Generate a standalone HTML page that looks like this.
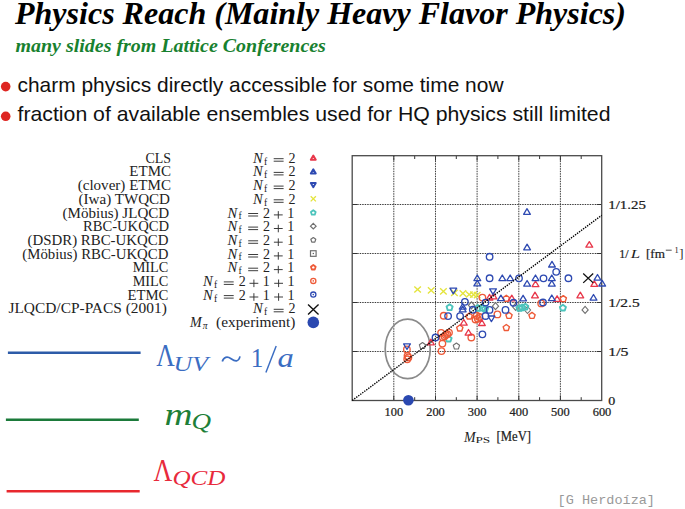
<!DOCTYPE html>
<html><head><meta charset="utf-8"><style>
html,body{margin:0;padding:0;background:#fff;}
svg{display:block;}
</style></head><body>
<svg width="685" height="509" viewBox="0 0 685 509">
<rect width="685" height="509" fill="#fff"/>
<text x="15" y="24" font-family="Liberation Serif" font-weight="bold" font-style="italic" font-size="31.6" textLength="611" lengthAdjust="spacingAndGlyphs" fill="#000">Physics Reach (Mainly Heavy Flavor Physics)</text>
<text x="15.5" y="51.6" font-family="Liberation Serif" font-weight="bold" font-style="italic" font-size="19" textLength="310.4" lengthAdjust="spacingAndGlyphs" fill="#18812f">many slides from Lattice Conferences</text>
<circle cx="5.7" cy="86.6" r="4.8" fill="#de2622"/>
<circle cx="5.7" cy="116.3" r="4.8" fill="#de2622"/>
<text x="17.5" y="91.9" font-family="Liberation Sans" font-size="21" textLength="486" lengthAdjust="spacingAndGlyphs" fill="#111">charm physics directly accessible for some time now</text>
<text x="17.5" y="121.2" font-family="Liberation Sans" font-size="21" textLength="593" lengthAdjust="spacingAndGlyphs" fill="#111">fraction of available ensembles used for HQ physics still limited</text>
<text x="145.5" y="162.7" font-family="Liberation Serif" font-size="14.0" textLength="25.5" lengthAdjust="spacingAndGlyphs" fill="#222">CLS</text>
<text x="252.9" y="162.7" font-family="Liberation Serif" font-style="italic" font-size="14.6" fill="#222">N</text><text x="265.6" y="164.6" text-anchor="middle" font-family="Liberation Serif" font-size="9.6" fill="#222">f</text><path d="M273.7 158.7h9.9M273.7 161.2h9.9" stroke="#333" stroke-width="0.95"/><text x="292.1" y="162.7" text-anchor="middle" font-family="Liberation Serif" font-size="14.0" fill="#222">2</text>
<text x="129.3" y="176.4" font-family="Liberation Serif" font-size="14.0" textLength="41.7" lengthAdjust="spacingAndGlyphs" fill="#222">ETMC</text>
<text x="252.9" y="176.4" font-family="Liberation Serif" font-style="italic" font-size="14.6" fill="#222">N</text><text x="265.6" y="178.3" text-anchor="middle" font-family="Liberation Serif" font-size="9.6" fill="#222">f</text><path d="M273.7 172.4h9.9M273.7 174.9h9.9" stroke="#333" stroke-width="0.95"/><text x="292.1" y="176.4" text-anchor="middle" font-family="Liberation Serif" font-size="14.0" fill="#222">2</text>
<text x="77.7" y="190.1" font-family="Liberation Serif" font-size="14.0" textLength="93.3" lengthAdjust="spacingAndGlyphs" fill="#222">(clover) ETMC</text>
<text x="252.9" y="190.1" font-family="Liberation Serif" font-style="italic" font-size="14.6" fill="#222">N</text><text x="265.6" y="192.0" text-anchor="middle" font-family="Liberation Serif" font-size="9.6" fill="#222">f</text><path d="M273.7 186.1h9.9M273.7 188.6h9.9" stroke="#333" stroke-width="0.95"/><text x="292.1" y="190.1" text-anchor="middle" font-family="Liberation Serif" font-size="14.0" fill="#222">2</text>
<text x="78.5" y="203.8" font-family="Liberation Serif" font-size="14.0" textLength="91.5" lengthAdjust="spacingAndGlyphs" fill="#222">(Iwa) TWQCD</text>
<text x="252.9" y="203.8" font-family="Liberation Serif" font-style="italic" font-size="14.6" fill="#222">N</text><text x="265.6" y="205.7" text-anchor="middle" font-family="Liberation Serif" font-size="9.6" fill="#222">f</text><path d="M273.7 199.8h9.9M273.7 202.3h9.9" stroke="#333" stroke-width="0.95"/><text x="292.1" y="203.8" text-anchor="middle" font-family="Liberation Serif" font-size="14.0" fill="#222">2</text>
<text x="62.6" y="217.5" font-family="Liberation Serif" font-size="14.0" textLength="106.6" lengthAdjust="spacingAndGlyphs" fill="#222">(Möbius) JLQCD</text>
<text x="227.4" y="217.5" font-family="Liberation Serif" font-style="italic" font-size="14.6" fill="#222">N</text><text x="240.1" y="219.4" text-anchor="middle" font-family="Liberation Serif" font-size="9.6" fill="#222">f</text><path d="M248.2 213.5h9.9M248.2 216.0h9.9" stroke="#333" stroke-width="0.95"/><text x="266.6" y="217.5" text-anchor="middle" font-family="Liberation Serif" font-size="14.0" fill="#222">2</text><path d="M273.9 214.9h8.8M278.3 211.1v7.6" stroke="#333" stroke-width="0.95"/><text x="290.7" y="217.5" text-anchor="middle" font-family="Liberation Serif" font-size="14.0" fill="#222">1</text>
<text x="83.0" y="231.1" font-family="Liberation Serif" font-size="14.0" textLength="86.0" lengthAdjust="spacingAndGlyphs" fill="#222">RBC-UKQCD</text>
<text x="227.4" y="231.1" font-family="Liberation Serif" font-style="italic" font-size="14.6" fill="#222">N</text><text x="240.1" y="233.0" text-anchor="middle" font-family="Liberation Serif" font-size="9.6" fill="#222">f</text><path d="M248.2 227.1h9.9M248.2 229.6h9.9" stroke="#333" stroke-width="0.95"/><text x="266.6" y="231.1" text-anchor="middle" font-family="Liberation Serif" font-size="14.0" fill="#222">2</text><path d="M273.9 228.5h8.8M278.3 224.7v7.6" stroke="#333" stroke-width="0.95"/><text x="290.7" y="231.1" text-anchor="middle" font-family="Liberation Serif" font-size="14.0" fill="#222">1</text>
<text x="27.6" y="244.8" font-family="Liberation Serif" font-size="14.0" textLength="140.8" lengthAdjust="spacingAndGlyphs" fill="#222">(DSDR) RBC-UKQCD</text>
<text x="227.4" y="244.8" font-family="Liberation Serif" font-style="italic" font-size="14.6" fill="#222">N</text><text x="240.1" y="246.7" text-anchor="middle" font-family="Liberation Serif" font-size="9.6" fill="#222">f</text><path d="M248.2 240.8h9.9M248.2 243.3h9.9" stroke="#333" stroke-width="0.95"/><text x="266.6" y="244.8" text-anchor="middle" font-family="Liberation Serif" font-size="14.0" fill="#222">2</text><path d="M273.9 242.2h8.8M278.3 238.4v7.6" stroke="#333" stroke-width="0.95"/><text x="290.7" y="244.8" text-anchor="middle" font-family="Liberation Serif" font-size="14.0" fill="#222">1</text>
<text x="22.3" y="258.5" font-family="Liberation Serif" font-size="14.0" textLength="146.1" lengthAdjust="spacingAndGlyphs" fill="#222">(Möbius) RBC-UKQCD</text>
<text x="227.4" y="258.5" font-family="Liberation Serif" font-style="italic" font-size="14.6" fill="#222">N</text><text x="240.1" y="260.4" text-anchor="middle" font-family="Liberation Serif" font-size="9.6" fill="#222">f</text><path d="M248.2 254.5h9.9M248.2 257.0h9.9" stroke="#333" stroke-width="0.95"/><text x="266.6" y="258.5" text-anchor="middle" font-family="Liberation Serif" font-size="14.0" fill="#222">2</text><path d="M273.9 255.9h8.8M278.3 252.1v7.6" stroke="#333" stroke-width="0.95"/><text x="290.7" y="258.5" text-anchor="middle" font-family="Liberation Serif" font-size="14.0" fill="#222">1</text>
<text x="132.7" y="272.2" font-family="Liberation Serif" font-size="14.0" textLength="35.6" lengthAdjust="spacingAndGlyphs" fill="#222">MILC</text>
<text x="227.4" y="272.2" font-family="Liberation Serif" font-style="italic" font-size="14.6" fill="#222">N</text><text x="240.1" y="274.1" text-anchor="middle" font-family="Liberation Serif" font-size="9.6" fill="#222">f</text><path d="M248.2 268.2h9.9M248.2 270.7h9.9" stroke="#333" stroke-width="0.95"/><text x="266.6" y="272.2" text-anchor="middle" font-family="Liberation Serif" font-size="14.0" fill="#222">2</text><path d="M273.9 269.6h8.8M278.3 265.8v7.6" stroke="#333" stroke-width="0.95"/><text x="290.7" y="272.2" text-anchor="middle" font-family="Liberation Serif" font-size="14.0" fill="#222">1</text>
<text x="132.7" y="285.9" font-family="Liberation Serif" font-size="14.0" textLength="35.6" lengthAdjust="spacingAndGlyphs" fill="#222">MILC</text>
<text x="203.0" y="285.9" font-family="Liberation Serif" font-style="italic" font-size="14.6" fill="#222">N</text><text x="215.7" y="287.8" text-anchor="middle" font-family="Liberation Serif" font-size="9.6" fill="#222">f</text><path d="M223.8 281.9h9.9M223.8 284.4h9.9" stroke="#333" stroke-width="0.95"/><text x="242.2" y="285.9" text-anchor="middle" font-family="Liberation Serif" font-size="14.0" fill="#222">2</text><path d="M249.5 283.3h8.8M253.9 279.5v7.6" stroke="#333" stroke-width="0.95"/><text x="266.3" y="285.9" text-anchor="middle" font-family="Liberation Serif" font-size="14.0" fill="#222">1</text><path d="M274.2 283.3h8.8M278.6 279.5v7.6" stroke="#333" stroke-width="0.95"/><text x="291.0" y="285.9" text-anchor="middle" font-family="Liberation Serif" font-size="14.0" fill="#222">1</text>
<text x="127.4" y="299.6" font-family="Liberation Serif" font-size="14.0" textLength="40.9" lengthAdjust="spacingAndGlyphs" fill="#222">ETMC</text>
<text x="203.0" y="299.6" font-family="Liberation Serif" font-style="italic" font-size="14.6" fill="#222">N</text><text x="215.7" y="301.5" text-anchor="middle" font-family="Liberation Serif" font-size="9.6" fill="#222">f</text><path d="M223.8 295.6h9.9M223.8 298.1h9.9" stroke="#333" stroke-width="0.95"/><text x="242.2" y="299.6" text-anchor="middle" font-family="Liberation Serif" font-size="14.0" fill="#222">2</text><path d="M249.5 297.0h8.8M253.9 293.2v7.6" stroke="#333" stroke-width="0.95"/><text x="266.3" y="299.6" text-anchor="middle" font-family="Liberation Serif" font-size="14.0" fill="#222">1</text><path d="M274.2 297.0h8.8M278.6 293.2v7.6" stroke="#333" stroke-width="0.95"/><text x="291.0" y="299.6" text-anchor="middle" font-family="Liberation Serif" font-size="14.0" fill="#222">1</text>
<text x="8.4" y="313.3" font-family="Liberation Serif" font-size="14.0" textLength="158.4" lengthAdjust="spacingAndGlyphs" fill="#222">JLQCD/CP-PACS (2001)</text>
<text x="252.9" y="313.3" font-family="Liberation Serif" font-style="italic" font-size="14.6" fill="#222">N</text><text x="265.6" y="315.2" text-anchor="middle" font-family="Liberation Serif" font-size="9.6" fill="#222">f</text><path d="M273.7 309.3h9.9M273.7 311.8h9.9" stroke="#333" stroke-width="0.95"/><text x="292.1" y="313.3" text-anchor="middle" font-family="Liberation Serif" font-size="14.0" fill="#222">2</text>
<text x="189.9" y="327.0" font-family="Liberation Serif" font-style="italic" font-size="14.0" fill="#222">M</text>
<text x="202.8" y="329.2" font-family="Liberation Serif" font-style="italic" font-size="9.5" fill="#222">π</text>
<text x="216.1" y="327.0" font-family="Liberation Serif" font-size="14.0" textLength="79.2" lengthAdjust="spacingAndGlyphs" fill="#222">(experiment)</text>
<path d="M313.30 155.60L315.80 159.80L310.80 159.80Z" fill="none" stroke="#e8374a" stroke-width="1.9" stroke-linejoin="round"/>
<path d="M313.30 169.29L315.80 173.49L310.80 173.49Z" fill="none" stroke="#2e4ab2" stroke-width="1.9" stroke-linejoin="round"/>
<path d="M313.30 187.18L315.80 182.98L310.80 182.98Z" fill="none" stroke="#2e4ab2" stroke-width="1.9" stroke-linejoin="round"/>
<path d="M310.70 196.17L315.90 201.37M315.90 196.17L310.70 201.37" stroke="#e4e43c" stroke-width="1.3"/>
<path d="M313.30 210.20L315.68 211.93L314.77 214.72L311.83 214.72L310.92 211.93Z" fill="none" stroke="#4cc4bc" stroke-width="1.8" stroke-linejoin="round"/>
<path d="M313.30 223.35L316.10 226.15L313.30 228.95L310.50 226.15Z" fill="none" stroke="#707070" stroke-width="1.2"/>
<path d="M313.30 237.49L315.77 239.28L314.83 242.19L311.77 242.19L310.83 239.28Z" fill="none" stroke="#707070" stroke-width="1.2" stroke-linejoin="round"/>
<rect x="310.50" y="250.73" width="5.60" height="5.60" fill="none" stroke="#707070" stroke-width="1.2"/><rect x="312.7" y="252.9" width="1.2" height="1.2" fill="#555"/>
<path d="M313.30 264.96L315.68 266.69L314.77 269.48L311.83 269.48L310.92 266.69Z" fill="none" stroke="#ee5a38" stroke-width="1.8" stroke-linejoin="round"/>
<circle cx="313.30" cy="280.91" r="2.6" fill="none" stroke="#ee5a38" stroke-width="1.3"/><circle cx="313.3" cy="280.9" r="0.8" fill="#ee5a38"/>
<circle cx="313.30" cy="294.60" r="2.6" fill="none" stroke="#2e4ab2" stroke-width="1.3"/><circle cx="313.3" cy="294.6" r="0.8" fill="#2e4ab2"/>
<path d="M308.05 304.40L318.55 314.40M318.55 304.40L308.05 314.40" stroke="#111111" stroke-width="1.4"/>
<circle cx="313.3" cy="322.4" r="5.8" fill="#2a48b0"/>
<line x1="7.9" y1="352.7" x2="140.6" y2="352.7" stroke="#2d5ba8" stroke-width="2.6"/>
<line x1="5.9" y1="419.7" x2="138.8" y2="419.7" stroke="#1b7a3a" stroke-width="2.6"/>
<line x1="6.6" y1="491.3" x2="139.7" y2="491.3" stroke="#e8282e" stroke-width="2.4"/>
<text x="156.3" y="366.4" font-family="Liberation Serif" font-size="31.6" textLength="18.6" lengthAdjust="spacingAndGlyphs" fill="#3b6dc2">Λ</text>
<text x="173.4" y="371.0" font-family="Liberation Serif" font-size="21" font-style="italic" textLength="34.6" lengthAdjust="spacingAndGlyphs" fill="#3b6dc2">UV</text>
<path d="M222.3 361.6C223.6 356.9 227.2 355.9 231.1 358.7S238.6 362.3 240.0 356.4" fill="none" stroke="#3b6dc2" stroke-width="1.7"/>
<text x="250.8" y="366.6" font-family="Liberation Serif" font-size="28" textLength="12.6" lengthAdjust="spacingAndGlyphs" fill="#3b6dc2">1</text>
<path d="M276.2 346.0L265.9 372.6" stroke="#3b6dc2" stroke-width="1.45"/>
<text x="277.6" y="366.8" font-family="Liberation Serif" font-size="28" font-style="italic" textLength="16.3" lengthAdjust="spacingAndGlyphs" fill="#3b6dc2">a</text>
<text x="164.6" y="425" font-family="Liberation Serif" font-size="32" font-style="italic" textLength="28" lengthAdjust="spacingAndGlyphs" fill="#1e7f38">m</text>
<text x="191.6" y="429.2" font-family="Liberation Serif" font-size="23" font-style="italic" textLength="19.6" lengthAdjust="spacingAndGlyphs" fill="#1e7f38">Q</text>
<text x="153.6" y="480.9" font-family="Liberation Serif" font-size="31.8" textLength="18.8" lengthAdjust="spacingAndGlyphs" fill="#e82a3c">Λ</text>
<text x="172.4" y="485" font-family="Liberation Serif" font-size="21" font-style="italic" textLength="53" lengthAdjust="spacingAndGlyphs" fill="#e82a3c">QCD</text>
<text x="557.6" y="504" font-family="Liberation Mono" font-size="13.5" textLength="97.4" lengthAdjust="spacingAndGlyphs" fill="#999">[G Herdoíza]</text>
<line x1="393.8" y1="155.7" x2="393.8" y2="400.5" stroke="#333" stroke-width="0.95" stroke-dasharray="1.5 1.0"/>
<line x1="435.5" y1="155.7" x2="435.5" y2="400.5" stroke="#333" stroke-width="0.95" stroke-dasharray="1.5 1.0"/>
<line x1="477.1" y1="155.7" x2="477.1" y2="400.5" stroke="#333" stroke-width="0.95" stroke-dasharray="1.5 1.0"/>
<line x1="518.8" y1="155.7" x2="518.8" y2="400.5" stroke="#333" stroke-width="0.95" stroke-dasharray="1.5 1.0"/>
<line x1="560.4" y1="155.7" x2="560.4" y2="400.5" stroke="#333" stroke-width="0.95" stroke-dasharray="1.5 1.0"/>
<line x1="352.2" y1="351.5" x2="601.7" y2="351.5" stroke="#333" stroke-width="0.95" stroke-dasharray="1.5 1.0"/>
<line x1="352.2" y1="302.5" x2="601.7" y2="302.5" stroke="#333" stroke-width="0.95" stroke-dasharray="1.5 1.0"/>
<line x1="352.2" y1="253.5" x2="601.7" y2="253.5" stroke="#333" stroke-width="0.95" stroke-dasharray="1.5 1.0"/>
<line x1="352.2" y1="204.5" x2="601.7" y2="204.5" stroke="#333" stroke-width="0.95" stroke-dasharray="1.5 1.0"/>
<path d="M393.8 155.7v5M393.8 400.5v-5M435.5 155.7v5M435.5 400.5v-5M477.1 155.7v5M477.1 400.5v-5M518.8 155.7v5M518.8 400.5v-5M560.4 155.7v5M560.4 400.5v-5M414.7 155.7v3.3M414.7 400.5v-3.3M456.3 155.7v3.3M456.3 400.5v-3.3M497.9 155.7v3.3M497.9 400.5v-3.3M539.6 155.7v3.3M539.6 400.5v-3.3M581.2 155.7v3.3M581.2 400.5v-3.3M352.2 351.5h5M601.7 351.5h-5M352.2 302.5h5M601.7 302.5h-5M352.2 253.5h5M601.7 253.5h-5M352.2 204.5h5M601.7 204.5h-5" stroke="#333" stroke-width="1"/>
<rect x="352.2" y="155.7" width="249.5" height="244.8" fill="none" stroke="#4a4a4a" stroke-width="1.3"/>
<ellipse cx="407.7" cy="348.9" rx="22.5" ry="29.7" fill="none" stroke="#8a8a8a" stroke-width="1.7"/>
<path d="M471.50 301.80L474.60 305.30L471.50 308.80L468.40 305.30Z" fill="none" stroke="#707070" stroke-width="1.1"/>
<path d="M495.50 302.70L498.60 306.20L495.50 309.70L492.40 306.20Z" fill="none" stroke="#707070" stroke-width="1.1"/>
<path d="M515.60 303.30L518.70 306.80L515.60 310.30L512.50 306.80Z" fill="none" stroke="#707070" stroke-width="1.1"/>
<path d="M527.50 306.50L530.60 310.00L527.50 313.50L524.40 310.00Z" fill="none" stroke="#707070" stroke-width="1.1"/>
<path d="M585.10 306.40L588.20 309.90L585.10 313.40L582.00 309.90Z" fill="none" stroke="#707070" stroke-width="1.1"/>
<path d="M422.50 342.52L425.64 344.80L424.44 348.48L420.56 348.48L419.36 344.80Z" fill="none" stroke="#707070" stroke-width="1.1" stroke-linejoin="round"/>
<path d="M456.40 343.02L459.54 345.30L458.34 348.98L454.46 348.98L453.26 345.30Z" fill="none" stroke="#707070" stroke-width="1.1" stroke-linejoin="round"/>
<path d="M449.60 304.31L452.64 306.52L451.48 310.09L447.72 310.09L446.56 306.52Z" fill="none" stroke="#4cc4bc" stroke-width="1.9" stroke-linejoin="round"/>
<path d="M477.80 304.91L480.84 307.12L479.68 310.69L475.92 310.69L474.76 307.12Z" fill="none" stroke="#4cc4bc" stroke-width="1.9" stroke-linejoin="round"/>
<path d="M482.40 304.81L485.44 307.02L484.28 310.59L480.52 310.59L479.36 307.02Z" fill="none" stroke="#4cc4bc" stroke-width="1.9" stroke-linejoin="round"/>
<path d="M485.00 305.71L488.04 307.92L486.88 311.49L483.12 311.49L481.96 307.92Z" fill="none" stroke="#4cc4bc" stroke-width="1.9" stroke-linejoin="round"/>
<path d="M522.20 304.51L525.24 306.72L524.08 310.29L520.32 310.29L519.16 306.72Z" fill="none" stroke="#4cc4bc" stroke-width="1.9" stroke-linejoin="round"/>
<path d="M525.30 303.71L528.34 305.92L527.18 309.49L523.42 309.49L522.26 305.92Z" fill="none" stroke="#4cc4bc" stroke-width="1.9" stroke-linejoin="round"/>
<path d="M519.50 305.11L522.54 307.32L521.38 310.89L517.62 310.89L516.46 307.32Z" fill="none" stroke="#4cc4bc" stroke-width="1.9" stroke-linejoin="round"/>
<path d="M562.90 304.71L565.94 306.92L564.78 310.49L561.02 310.49L559.86 306.92Z" fill="none" stroke="#4cc4bc" stroke-width="1.9" stroke-linejoin="round"/>
<path d="M448.60 335.71L451.64 337.92L450.48 341.49L446.72 341.49L445.56 337.92Z" fill="none" stroke="#4cc4bc" stroke-width="1.9" stroke-linejoin="round"/>
<path d="M414.30 286.40L420.90 292.60M420.90 286.40L414.30 292.60" stroke="#e4e43c" stroke-width="1.35"/>
<path d="M427.90 287.20L434.50 293.40M434.50 287.20L427.90 293.40" stroke="#e4e43c" stroke-width="1.35"/>
<path d="M440.10 288.30L446.70 294.50M446.70 288.30L440.10 294.50" stroke="#e4e43c" stroke-width="1.35"/>
<path d="M451.10 289.70L457.70 295.90M457.70 289.70L451.10 295.90" stroke="#e4e43c" stroke-width="1.35"/>
<path d="M459.60 290.20L466.20 296.40M466.20 290.20L459.60 296.40" stroke="#e4e43c" stroke-width="1.35"/>
<path d="M466.00 291.40L472.60 297.60M472.60 291.40L466.00 297.60" stroke="#e4e43c" stroke-width="1.35"/>
<path d="M470.20 291.50L476.80 297.70M476.80 291.50L470.20 297.70" stroke="#e4e43c" stroke-width="1.35"/>
<path d="M473.90 292.10L480.50 298.30M480.50 292.10L473.90 298.30" stroke="#e4e43c" stroke-width="1.35"/>
<circle cx="482.40" cy="297.60" r="3.25" fill="none" stroke="#ee5a38" stroke-width="1.35"/>
<circle cx="541.20" cy="303.40" r="3.25" fill="none" stroke="#ee5a38" stroke-width="1.35"/>
<circle cx="443.70" cy="315.70" r="3.25" fill="none" stroke="#ee5a38" stroke-width="1.35"/>
<circle cx="497.40" cy="314.40" r="3.25" fill="none" stroke="#ee5a38" stroke-width="1.35"/>
<circle cx="476.60" cy="315.70" r="3.25" fill="none" stroke="#ee5a38" stroke-width="1.35"/>
<circle cx="477.80" cy="318.80" r="3.25" fill="none" stroke="#ee5a38" stroke-width="1.35"/>
<circle cx="479.50" cy="317.00" r="3.25" fill="none" stroke="#ee5a38" stroke-width="1.35"/>
<circle cx="475.50" cy="319.50" r="3.25" fill="none" stroke="#ee5a38" stroke-width="1.35"/>
<circle cx="471.30" cy="337.50" r="3.25" fill="none" stroke="#ee5a38" stroke-width="1.35"/>
<circle cx="441.10" cy="332.80" r="3.25" fill="none" stroke="#ee5a38" stroke-width="1.35"/>
<circle cx="442.70" cy="337.30" r="3.25" fill="none" stroke="#ee5a38" stroke-width="1.35"/>
<circle cx="445.80" cy="335.00" r="3.25" fill="none" stroke="#ee5a38" stroke-width="1.35"/>
<circle cx="449.00" cy="332.60" r="3.25" fill="none" stroke="#ee5a38" stroke-width="1.35"/>
<circle cx="447.30" cy="334.20" r="3.25" fill="none" stroke="#ee5a38" stroke-width="1.35"/>
<circle cx="444.50" cy="336.30" r="3.25" fill="none" stroke="#ee5a38" stroke-width="1.35"/>
<circle cx="442.40" cy="343.60" r="3.25" fill="none" stroke="#ee5a38" stroke-width="1.35"/>
<circle cx="441.50" cy="351.10" r="3.25" fill="none" stroke="#ee5a38" stroke-width="1.35"/>
<circle cx="406.90" cy="349.40" r="3.25" fill="none" stroke="#ee5a38" stroke-width="1.35"/>
<circle cx="407.50" cy="355.80" r="3.25" fill="none" stroke="#ee5a38" stroke-width="1.35"/>
<circle cx="408.40" cy="357.40" r="3.25" fill="none" stroke="#ee5a38" stroke-width="1.35"/>
<circle cx="407.20" cy="359.20" r="3.25" fill="none" stroke="#ee5a38" stroke-width="1.35"/>
<path d="M506.30 295.22L509.44 297.50L508.24 301.18L504.36 301.18L503.16 297.50Z" fill="none" stroke="#ee5a38" stroke-width="1.4" stroke-linejoin="round"/>
<path d="M563.30 295.62L566.44 297.90L565.24 301.58L561.36 301.58L560.16 297.90Z" fill="none" stroke="#ee5a38" stroke-width="1.4" stroke-linejoin="round"/>
<path d="M469.20 313.02L472.34 315.30L471.14 318.98L467.26 318.98L466.06 315.30Z" fill="none" stroke="#ee5a38" stroke-width="1.4" stroke-linejoin="round"/>
<path d="M509.00 312.42L512.14 314.70L510.94 318.38L507.06 318.38L505.86 314.70Z" fill="none" stroke="#ee5a38" stroke-width="1.4" stroke-linejoin="round"/>
<path d="M532.00 312.42L535.14 314.70L533.94 318.38L530.06 318.38L528.86 314.70Z" fill="none" stroke="#ee5a38" stroke-width="1.4" stroke-linejoin="round"/>
<path d="M459.80 325.02L462.94 327.30L461.74 330.98L457.86 330.98L456.66 327.30Z" fill="none" stroke="#ee5a38" stroke-width="1.4" stroke-linejoin="round"/>
<path d="M506.30 324.52L509.44 326.80L508.24 330.48L504.36 330.48L503.16 326.80Z" fill="none" stroke="#ee5a38" stroke-width="1.4" stroke-linejoin="round"/>
<path d="M589.30 241.60L592.70 247.20L585.90 247.20Z" fill="none" stroke="#e8374a" stroke-width="1.3" stroke-linejoin="round"/>
<path d="M535.50 281.00L538.90 286.60L532.10 286.60Z" fill="none" stroke="#e8374a" stroke-width="1.3" stroke-linejoin="round"/>
<path d="M594.30 280.80L597.70 286.40L590.90 286.40Z" fill="none" stroke="#e8374a" stroke-width="1.3" stroke-linejoin="round"/>
<path d="M535.00 292.20L538.40 297.80L531.60 297.80Z" fill="none" stroke="#e8374a" stroke-width="1.3" stroke-linejoin="round"/>
<path d="M580.30 292.20L583.70 297.80L576.90 297.80Z" fill="none" stroke="#e8374a" stroke-width="1.3" stroke-linejoin="round"/>
<path d="M489.50 294.40L492.90 300.00L486.10 300.00Z" fill="none" stroke="#e8374a" stroke-width="1.3" stroke-linejoin="round"/>
<path d="M493.50 293.20L496.90 298.80L490.10 298.80Z" fill="none" stroke="#e8374a" stroke-width="1.3" stroke-linejoin="round"/>
<path d="M511.80 295.20L515.20 300.80L508.40 300.80Z" fill="none" stroke="#e8374a" stroke-width="1.3" stroke-linejoin="round"/>
<path d="M557.10 295.80L560.50 301.40L553.70 301.40Z" fill="none" stroke="#e8374a" stroke-width="1.3" stroke-linejoin="round"/>
<path d="M463.80 319.50L467.20 325.10L460.40 325.10Z" fill="none" stroke="#e8374a" stroke-width="1.3" stroke-linejoin="round"/>
<path d="M481.90 319.90L485.30 325.50L478.50 325.50Z" fill="none" stroke="#e8374a" stroke-width="1.3" stroke-linejoin="round"/>
<path d="M468.50 329.50L471.90 335.10L465.10 335.10Z" fill="none" stroke="#e8374a" stroke-width="1.3" stroke-linejoin="round"/>
<path d="M430.90 339.20L434.30 344.80L427.50 344.80Z" fill="none" stroke="#e8374a" stroke-width="1.3" stroke-linejoin="round"/>
<path d="M493.00 294.40L496.40 288.80L489.60 288.80Z" fill="none" stroke="#2e4ab2" stroke-width="1.3" stroke-linejoin="round"/>
<path d="M453.30 293.80L456.70 288.20L449.90 288.20Z" fill="none" stroke="#2e4ab2" stroke-width="1.3" stroke-linejoin="round"/>
<path d="M491.40 321.60L494.80 316.00L488.00 316.00Z" fill="none" stroke="#2e4ab2" stroke-width="1.3" stroke-linejoin="round"/>
<path d="M407.00 349.40L410.40 343.80L403.60 343.80Z" fill="none" stroke="#2e4ab2" stroke-width="1.3" stroke-linejoin="round"/>
<path d="M527.00 208.70L530.40 214.30L523.60 214.30Z" fill="none" stroke="#2e4ab2" stroke-width="1.3" stroke-linejoin="round"/>
<path d="M527.10 244.20L530.50 249.80L523.70 249.80Z" fill="none" stroke="#2e4ab2" stroke-width="1.3" stroke-linejoin="round"/>
<path d="M552.00 261.40L555.40 267.00L548.60 267.00Z" fill="none" stroke="#2e4ab2" stroke-width="1.3" stroke-linejoin="round"/>
<path d="M477.30 275.00L480.70 280.60L473.90 280.60Z" fill="none" stroke="#2e4ab2" stroke-width="1.3" stroke-linejoin="round"/>
<path d="M502.30 275.00L505.70 280.60L498.90 280.60Z" fill="none" stroke="#2e4ab2" stroke-width="1.3" stroke-linejoin="round"/>
<path d="M510.20 275.00L513.60 280.60L506.80 280.60Z" fill="none" stroke="#2e4ab2" stroke-width="1.3" stroke-linejoin="round"/>
<path d="M535.50 275.00L538.90 280.60L532.10 280.60Z" fill="none" stroke="#2e4ab2" stroke-width="1.3" stroke-linejoin="round"/>
<path d="M551.80 275.00L555.20 280.60L548.40 280.60Z" fill="none" stroke="#2e4ab2" stroke-width="1.3" stroke-linejoin="round"/>
<path d="M597.50 274.50L600.90 280.10L594.10 280.10Z" fill="none" stroke="#2e4ab2" stroke-width="1.3" stroke-linejoin="round"/>
<path d="M477.30 280.30L480.70 285.90L473.90 285.90Z" fill="none" stroke="#2e4ab2" stroke-width="1.3" stroke-linejoin="round"/>
<path d="M527.10 280.50L530.50 286.10L523.70 286.10Z" fill="none" stroke="#2e4ab2" stroke-width="1.3" stroke-linejoin="round"/>
<path d="M551.80 280.50L555.20 286.10L548.40 286.10Z" fill="none" stroke="#2e4ab2" stroke-width="1.3" stroke-linejoin="round"/>
<path d="M602.20 280.40L605.60 286.00L598.80 286.00Z" fill="none" stroke="#2e4ab2" stroke-width="1.3" stroke-linejoin="round"/>
<path d="M500.90 295.10L504.30 300.70L497.50 300.70Z" fill="none" stroke="#2e4ab2" stroke-width="1.3" stroke-linejoin="round"/>
<path d="M523.10 295.30L526.50 300.90L519.70 300.90Z" fill="none" stroke="#2e4ab2" stroke-width="1.3" stroke-linejoin="round"/>
<path d="M551.80 295.00L555.20 300.60L548.40 300.60Z" fill="none" stroke="#2e4ab2" stroke-width="1.3" stroke-linejoin="round"/>
<path d="M593.50 294.50L596.90 300.10L590.10 300.10Z" fill="none" stroke="#2e4ab2" stroke-width="1.3" stroke-linejoin="round"/>
<path d="M462.70 303.50L466.10 309.10L459.30 309.10Z" fill="none" stroke="#2e4ab2" stroke-width="1.3" stroke-linejoin="round"/>
<path d="M462.70 306.20L466.10 311.80L459.30 311.80Z" fill="none" stroke="#2e4ab2" stroke-width="1.3" stroke-linejoin="round"/>
<circle cx="489.60" cy="256.80" r="3.25" fill="none" stroke="#2e4ab2" stroke-width="1.35"/>
<circle cx="556.20" cy="271.80" r="3.25" fill="none" stroke="#2e4ab2" stroke-width="1.35"/>
<circle cx="489.60" cy="278.20" r="3.25" fill="none" stroke="#2e4ab2" stroke-width="1.35"/>
<circle cx="519.00" cy="278.30" r="3.25" fill="none" stroke="#2e4ab2" stroke-width="1.35"/>
<circle cx="543.50" cy="278.30" r="3.25" fill="none" stroke="#2e4ab2" stroke-width="1.35"/>
<circle cx="568.40" cy="278.20" r="3.25" fill="none" stroke="#2e4ab2" stroke-width="1.35"/>
<circle cx="464.90" cy="301.80" r="3.25" fill="none" stroke="#2e4ab2" stroke-width="1.35"/>
<circle cx="485.50" cy="302.60" r="3.25" fill="none" stroke="#2e4ab2" stroke-width="1.35"/>
<circle cx="513.50" cy="302.70" r="3.25" fill="none" stroke="#2e4ab2" stroke-width="1.35"/>
<circle cx="543.00" cy="302.50" r="3.25" fill="none" stroke="#2e4ab2" stroke-width="1.35"/>
<circle cx="472.80" cy="309.70" r="3.25" fill="none" stroke="#2e4ab2" stroke-width="1.35"/>
<circle cx="489.50" cy="309.90" r="3.25" fill="none" stroke="#2e4ab2" stroke-width="1.35"/>
<circle cx="505.50" cy="309.90" r="3.25" fill="none" stroke="#2e4ab2" stroke-width="1.35"/>
<circle cx="448.10" cy="316.10" r="3.25" fill="none" stroke="#2e4ab2" stroke-width="1.35"/>
<circle cx="460.10" cy="316.10" r="3.25" fill="none" stroke="#2e4ab2" stroke-width="1.35"/>
<circle cx="485.50" cy="316.00" r="3.25" fill="none" stroke="#2e4ab2" stroke-width="1.35"/>
<circle cx="482.40" cy="334.30" r="3.25" fill="none" stroke="#2e4ab2" stroke-width="1.35"/>
<circle cx="435.50" cy="337.50" r="3.25" fill="none" stroke="#2e4ab2" stroke-width="1.35"/>
<path d="M583.20 273.50L593.20 282.90M593.20 273.50L583.20 282.90" stroke="#111111" stroke-width="1.3"/>
<line x1="352.2" y1="400.5" x2="601.7" y2="215.3" stroke="#000" stroke-width="1.4" stroke-dasharray="1.4 1.1"/>
<circle cx="408.4" cy="400.3" r="5.3" fill="#2a48b0"/>
<text x="384.5" y="415.9" font-family="Liberation Serif" font-weight="normal" font-size="11.6" textLength="18.6" lengthAdjust="spacingAndGlyphs" fill="#222" stroke="#222" stroke-width="0.22">100</text>
<text x="426.2" y="415.9" font-family="Liberation Serif" font-weight="normal" font-size="11.6" textLength="18.6" lengthAdjust="spacingAndGlyphs" fill="#222" stroke="#222" stroke-width="0.22">200</text>
<text x="467.8" y="415.9" font-family="Liberation Serif" font-weight="normal" font-size="11.6" textLength="18.6" lengthAdjust="spacingAndGlyphs" fill="#222" stroke="#222" stroke-width="0.22">300</text>
<text x="509.5" y="415.9" font-family="Liberation Serif" font-weight="normal" font-size="11.6" textLength="18.6" lengthAdjust="spacingAndGlyphs" fill="#222" stroke="#222" stroke-width="0.22">400</text>
<text x="551.1" y="415.9" font-family="Liberation Serif" font-weight="normal" font-size="11.6" textLength="18.6" lengthAdjust="spacingAndGlyphs" fill="#222" stroke="#222" stroke-width="0.22">500</text>
<text x="592.7" y="415.9" font-family="Liberation Serif" font-weight="normal" font-size="11.6" textLength="18.6" lengthAdjust="spacingAndGlyphs" fill="#222" stroke="#222" stroke-width="0.22">600</text>
<text x="608.3" y="208.7" font-family="Liberation Serif" font-weight="normal" font-size="11.6" textLength="37.6" lengthAdjust="spacingAndGlyphs" fill="#222" stroke="#222" stroke-width="0.22">1/1.25</text>
<text x="608.3" y="306.7" font-family="Liberation Serif" font-weight="normal" font-size="11.6" textLength="31.4" lengthAdjust="spacingAndGlyphs" fill="#222" stroke="#222" stroke-width="0.22">1/2.5</text>
<text x="608.3" y="355.7" font-family="Liberation Serif" font-weight="normal" font-size="11.6" textLength="20.2" lengthAdjust="spacingAndGlyphs" fill="#222" stroke="#222" stroke-width="0.22">1/5</text>
<text x="608.3" y="404.7" font-family="Liberation Serif" font-weight="normal" font-size="11.6" textLength="7" lengthAdjust="spacingAndGlyphs" fill="#222" stroke="#222" stroke-width="0.22">0</text>
<text x="619.2" y="257.6" font-family="Liberation Serif" font-weight="normal" font-size="11.6" textLength="9.3" lengthAdjust="spacingAndGlyphs" fill="#222" stroke="#222" stroke-width="0.22">1/</text>
<text x="630.8" y="257.6" font-family="Liberation Serif" font-style="italic" font-size="13.2" textLength="9.4" lengthAdjust="spacingAndGlyphs" fill="#222">L</text>
<text x="645.9" y="257.6" font-family="Liberation Serif" font-size="12.6" textLength="19" lengthAdjust="spacingAndGlyphs" fill="#222" stroke="#222" stroke-width="0.22">[fm</text>
<path d="M665.8 250.2h5.9" stroke="#222" stroke-width="0.8"/>
<text x="674.6" y="252.6" font-family="Liberation Serif" font-size="8.4" fill="#222">1</text>
<text x="679.3" y="257.6" font-family="Liberation Serif" font-size="12.6" fill="#222">]</text>
<text x="464.0" y="441.6" font-family="Liberation Serif" font-style="italic" font-size="14.2" textLength="11.6" lengthAdjust="spacingAndGlyphs" fill="#222">M</text>
<text x="475.4" y="442.8" font-family="Liberation Serif" font-size="9.2" textLength="14.8" lengthAdjust="spacingAndGlyphs" fill="#222">PS</text>
<text x="496.6" y="441.3" font-family="Liberation Serif" font-size="13.6" textLength="34.4" lengthAdjust="spacingAndGlyphs" fill="#222" stroke="#222" stroke-width="0.22">[MeV]</text>
</svg>
</body></html>
